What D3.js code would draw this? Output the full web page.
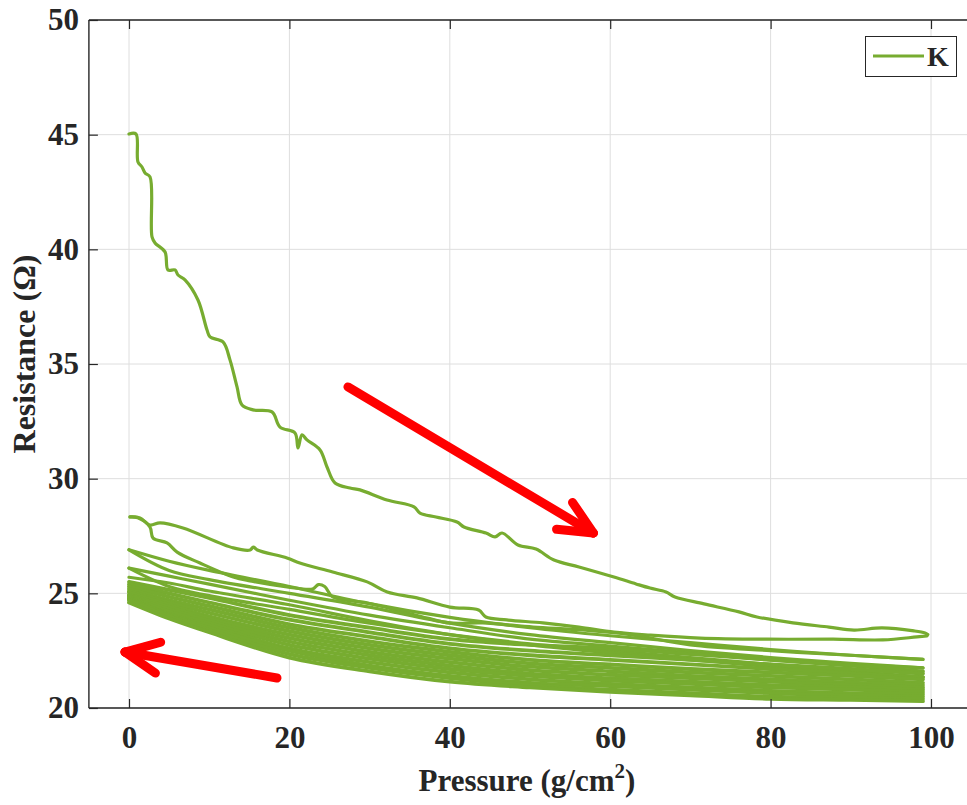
<!DOCTYPE html>
<html>
<head>
<meta charset="utf-8">
<script src="https://cdn.jsdelivr.net/npm/d3@7/dist/d3.min.js"></script>
<style>
  body { margin: 0; background: #ffffff; }
  text { font-family: "Liberation Serif", "Times New Roman", serif; font-weight: bold; fill: #262626; }
</style>
</head>
<body>
<svg id="chart" width="967" height="805"></svg>
<script>
// ---- Pressure / resistance cycles of sensor K ----
const xTicks = [0, 20, 40, 60, 80, 100];
const yTicks = [20, 25, 30, 35, 40, 45, 50];
const seriesName = "K";

// First loading sweep, [pressure g/cm², resistance Ω]
const firstLoad = [[0,45.03],[0.87,45.03],[1.12,43.81],[1.62,43.59],[2.0,43.33],[2.62,43.16],[2.87,40.54],[3.24,40.28],[4.49,39.89],[4.86,39.1],[5.74,39.1],[6.11,38.88],[6.98,38.67],[8.6,37.79],[9.73,36.48],[10.1,36.18],[11.72,35.96],[12.59,35.18],[13.47,34.0],[14.09,33.21],[15.46,33.0],[17.83,32.91],[18.83,32.25],[20.7,31.99],[21.07,31.34],[21.57,31.91],[22.19,31.69],[23.82,31.25],[24.69,30.51],[25.69,29.81],[27.56,29.59],[28.8,29.51],[32.17,29.07],[35.54,28.77],[36.28,28.5],[38.28,28.33],[40.9,28.11],[41.77,27.89],[44.51,27.63],[45.64,27.46],[46.51,27.63],[48.5,27.11],[50.75,26.93],[52.99,26.45],[56.11,26.15],[60.47,25.71],[63.22,25.41],[64.96,25.23],[66.96,25.06],[68.08,24.84],[71.7,24.54],[76.06,24.19],[78.3,23.97],[82.79,23.71],[87.28,23.53],[90.4,23.4],[93.89,23.49],[97.88,23.36],[99.25,23.27],[99.6,23.2]];

// First unloading sweep (pressure decreasing)
const firstUnload = [[99.5,23.14],[98.25,23.1],[94.0,22.97],[87.8,23.0],[79.55,23.0],[71.2,23.05],[64.96,23.18],[60.47,23.31],[56.1,23.53],[51.6,23.71],[47.1,23.84],[44.5,23.97],[43.6,24.27],[40.0,24.4],[35.9,24.8],[32.2,25.06],[29.7,25.5],[25.4,25.93],[21.3,26.32],[19.7,26.54],[16.0,26.89],[15.5,27.02],[15.1,26.89],[13.0,26.98],[6.73,27.85],[3.87,28.07],[2.6,27.98],[1.37,28.29],[0.12,28.33]];

// Second loading sweep
const secondLoad = [[0.12,28.33],[1.1,28.29],[2.6,27.9],[3.0,27.41],[4.74,27.2],[6.0,26.8],[8.85,26.32],[13.0,25.71],[15.1,25.54],[19.7,25.28],[22.9,25.19],[23.6,25.38],[24.4,25.3],[25.4,24.84],[29.7,24.58],[33.8,24.23],[37.2,23.92],[40.0,23.71],[44.1,23.71],[50.4,23.53],[56.6,23.4],[62.5,23.2],[70,22.75],[80,22.5],[90,22.3],[99,22.12]];

// Later sweeps, sampled on a common pressure grid (ascending pressure)
const pressureGrid = [0, 5, 10, 20, 30, 40, 50, 60, 70, 80, 90, 99];
const secondUnload = [26.9, 26.4, 26.0, 25.3, 24.55, 23.95, 23.5, 23.15, 22.85, 22.55, 22.3, 22.12];
const thirdLoad    = [26.9, 26.0, 25.6, 25.0, 24.4, 23.7, 23.2, 22.85, 22.5, 22.2, 21.95, 21.75];
const thirdUnload  = [26.1, 25.75, 25.4, 24.7, 24.05, 23.5, 23.0, 22.7, 22.4, 22.1, 21.9, 21.75];
const fourthLoad   = [26.1, 25.3, 24.9, 24.3, 23.7, 23.2, 22.8, 22.5, 22.2, 21.9, 21.6, 21.35];
const fourthUnload = [25.7, 25.45, 25.1, 24.5, 23.8, 23.2, 22.75, 22.4, 22.1, 21.8, 21.55, 21.35];

// Settled cycles forming the dense lower band (alternating load / unload)
const settled1  = [25.5, 25.15, 24.8, 24.05, 23.5, 23.0, 22.75, 22.6, 22.35, 22.1, 21.85, 21.6];
const settled2  = [25.4, 25.0, 24.6, 23.85, 23.3, 22.8, 22.5, 22.3, 22.1, 21.9, 21.7, 21.5];
const settled3  = [25.3, 24.85, 24.45, 23.65, 23.1, 22.6, 22.3, 22.1, 21.9, 21.7, 21.5, 21.35];
const settled4  = [25.2, 24.7, 24.3, 23.5, 22.9, 22.45, 22.1, 21.9, 21.7, 21.55, 21.4, 21.25];
const settled5  = [25.1, 24.6, 24.15, 23.35, 22.75, 22.3, 21.95, 21.75, 21.55, 21.4, 21.25, 21.1];
const settled6  = [25.05, 24.5, 24.0, 23.2, 22.6, 22.15, 21.8, 21.6, 21.4, 21.25, 21.1, 21.0];
const settled7  = [24.95, 24.4, 23.9, 23.05, 22.45, 22.0, 21.65, 21.45, 21.3, 21.15, 21.0, 20.9];
const settled8  = [24.9, 24.3, 23.8, 22.9, 22.3, 21.85, 21.5, 21.3, 21.15, 21.0, 20.9, 20.8];
const settled9  = [24.85, 24.2, 23.7, 22.75, 22.15, 21.7, 21.4, 21.2, 21.05, 20.9, 20.8, 20.7];
const settled10 = [24.8, 24.1, 23.6, 22.6, 22.0, 21.55, 21.25, 21.05, 20.9, 20.75, 20.65, 20.6];
const settled11 = [24.75, 24.05, 23.5, 22.5, 21.85, 21.4, 21.1, 20.95, 20.8, 20.65, 20.55, 20.5];
const settled12 = [24.7, 24.0, 23.4, 22.35, 21.75, 21.3, 21.0, 20.8, 20.65, 20.5, 20.45, 20.4];
const settled13 = [24.6, 23.9, 23.3, 22.2, 21.6, 21.15, 20.9, 20.7, 20.55, 20.4, 20.35, 20.3];

// Annotation arrows: [startPressure, startResistance, tipPressure, tipResistance]
const loadingArrow   = [27.3, 34.0, 57.9, 27.63];
const unloadingArrow = [18.45, 21.31, -0.5, 22.44];

// ---- Layout ----
const svg = d3.select("#chart");
const W = 967, H = 805;
const plotLeft = 88.9, plotTop = 20, plotBottom = 708;
const x = d3.scaleLinear().domain([-5, 105]).range([plotLeft, plotLeft + 110 * 8.02]);
const y = d3.scaleLinear().domain([20, 50]).range([plotBottom, plotTop]);
const plotRight = x(105);

const lineColor = "#77ac30";
const axisColor = "#262626";
const gridColor = "#dedede";
const fontStack = '"Liberation Serif", "Times New Roman", serif';

svg.append("rect").attr("width", W).attr("height", H).attr("fill", "#fff");

svg.append("defs").append("clipPath").attr("id", "plotClip")
  .append("rect").attr("x", plotLeft).attr("y", plotTop)
  .attr("width", plotRight - plotLeft).attr("height", plotBottom - plotTop);

// grid
const grid = svg.append("g");
grid.selectAll("line.gx").data(xTicks).join("line")
  .attr("x1", d => x(d)).attr("x2", d => x(d))
  .attr("y1", plotTop).attr("y2", plotBottom)
  .attr("stroke", gridColor).attr("stroke-width", 1);
grid.selectAll("line.gy").data(yTicks).join("line")
  .attr("x1", plotLeft).attr("x2", plotRight)
  .attr("y1", d => y(d)).attr("y2", d => y(d))
  .attr("stroke", gridColor).attr("stroke-width", 1);

// assemble the continuous measurement trace
const onGrid = (vals, reverse) => {
  const pts = pressureGrid.map((p, i) => [p, vals[i]]);
  return reverse ? pts.slice().reverse() : pts;
};
const settled = [settled1, settled2, settled3, settled4, settled5, settled6, settled7,
                 settled8, settled9, settled10, settled11, settled12, settled13];

const segments = [
  firstLoad, firstUnload, secondLoad,
  onGrid(secondUnload, true), onGrid(thirdLoad, false),
  onGrid(thirdUnload, true), onGrid(fourthLoad, false),
  onGrid(fourthUnload, true)
];
const upperCount = segments.length;
settled.forEach((s, i) => segments.push(onGrid(s, i % 2 === 1)));

const smooth = d3.line().x(d => x(d[0])).y(d => y(d[1])).curve(d3.curveCatmullRom.alpha(0.5));

const traces = svg.append("g").attr("clip-path", "url(#plotClip)");
segments.forEach((seg, i) => {
  traces.append("path")
    .attr("d", smooth(seg))
    .attr("fill", "none")
    .attr("stroke", lineColor)
    .attr("stroke-width", i < upperCount ? 3.2 : 3.8)
    .attr("stroke-linejoin", "round")
    .attr("stroke-linecap", "round");
});

// axes (inside ticks, box top)
const tickLen = 9;
const xAxisB = d3.axisBottom(x).tickValues(xTicks).tickSize(-tickLen).tickPadding(18).tickFormat(d3.format("d"));
const gx = svg.append("g").attr("transform", `translate(0,${plotBottom})`).call(xAxisB);
gx.select(".domain").attr("d", `M${plotLeft},0H${plotRight}`);
const xAxisT = d3.axisTop(x).tickValues(xTicks).tickSize(-tickLen).tickFormat("");
const gxt = svg.append("g").attr("transform", `translate(0,${plotTop})`).call(xAxisT);
gxt.select(".domain").attr("d", `M${plotLeft},0H${plotRight}`);
const yAxisL = d3.axisLeft(y).tickValues(yTicks).tickSize(-tickLen).tickPadding(10).tickFormat(d3.format("d"));
const gy = svg.append("g").attr("transform", `translate(${plotLeft},0)`).call(yAxisL);
gy.select(".domain").attr("d", `M0,${plotTop}V${plotBottom}`);

[gx, gxt, gy].forEach(g => {
  g.selectAll(".domain").attr("stroke", axisColor).attr("stroke-width", 1.4).attr("fill", "none");
  g.selectAll(".tick line").attr("stroke", axisColor).attr("stroke-width", 1.2);
  g.selectAll(".tick text").attr("fill", axisColor)
    .style("font-family", fontStack)
    .style("font-weight", "bold").style("font-size", "31px");
});

// axis titles
svg.append("text")
  .attr("transform", `translate(35,${354}) rotate(-90)`)
  .attr("text-anchor", "middle").style("font-size", "32px")
  .text("Resistance (Ω)");
const xt = svg.append("text")
  .attr("x", 527).attr("y", 791).attr("text-anchor", "middle").style("font-size", "31px");
xt.append("tspan").text("Pressure (g/cm");
xt.append("tspan").attr("dy", -13).style("font-size", "21px").text("2");
xt.append("tspan").attr("dy", 13).text(")");

// arrows
const arrowColor = "#ff0000";
function drawArrow(a) {
  const x0 = x(a[0]), y0 = y(a[1]), x1 = x(a[2]), y1 = y(a[3]);
  const ang = Math.atan2(y0 - y1, x0 - x1);
  const headLen = 37, spread = 25 * Math.PI / 180;
  const g = svg.append("g").attr("stroke", arrowColor).attr("stroke-width", 9)
    .attr("stroke-linecap", "round").attr("fill", "none");
  g.append("line").attr("x1", x0).attr("y1", y0).attr("x2", x1).attr("y2", y1);
  [-spread, spread].forEach(s => {
    g.append("line").attr("x1", x1).attr("y1", y1)
      .attr("x2", x1 + headLen * Math.cos(ang + s))
      .attr("y2", y1 + headLen * Math.sin(ang + s));
  });
}
drawArrow(loadingArrow);
drawArrow(unloadingArrow);

// legend
const lg = svg.append("g");
lg.append("rect").attr("x", 865.5).attr("y", 36.5).attr("width", 91).attr("height", 40)
  .attr("fill", "#fff").attr("stroke", axisColor).attr("stroke-width", 1);
lg.append("line").attr("x1", 873).attr("x2", 924).attr("y1", 56).attr("y2", 56)
  .attr("stroke", lineColor).attr("stroke-width", 3);
lg.append("text").attr("x", 927).attr("y", 66).style("font-size", "28px").text(seriesName);
</script>
</body>
</html>
